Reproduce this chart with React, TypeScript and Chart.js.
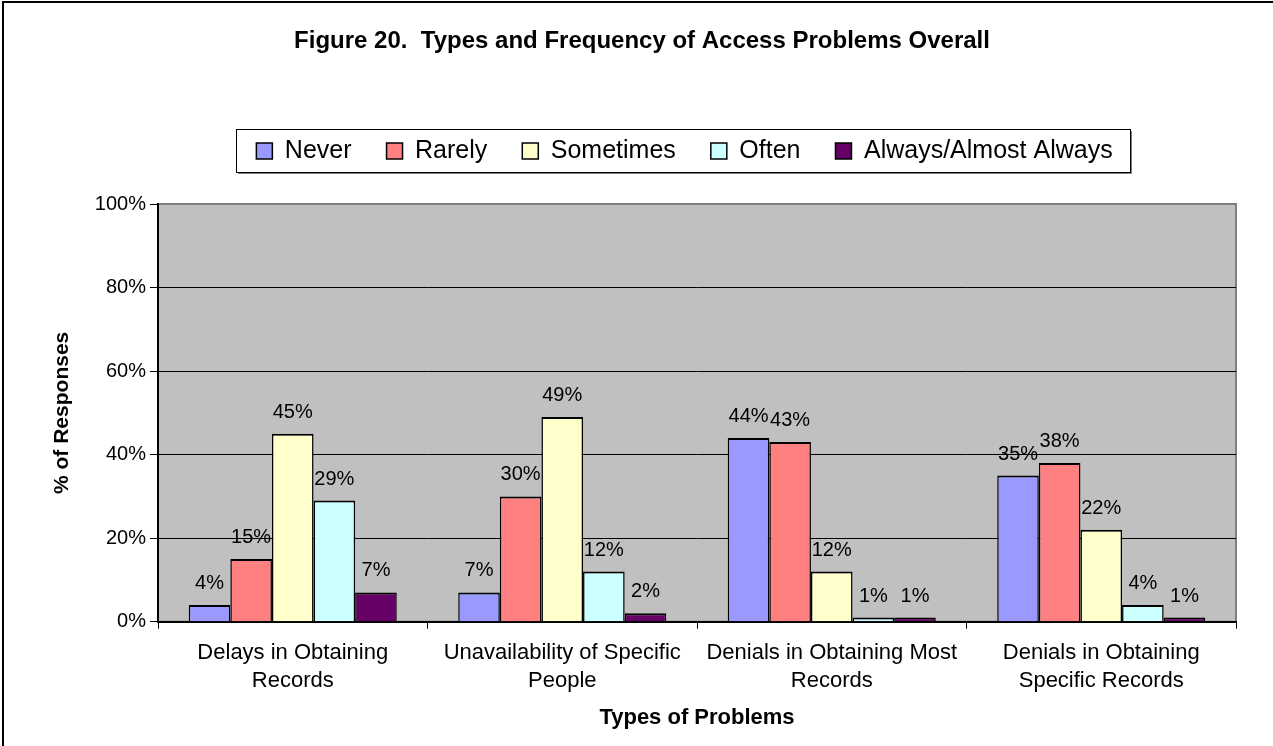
import { useEffect, useRef } from 'react';
import { Chart, registerables } from 'chart.js';

Chart.register(...registerables);

// ---- data ----
const categories: string[][] = [
  ['Delays in Obtaining', 'Records'],
  ['Unavailability of Specific', 'People'],
  ['Denials in Obtaining Most', 'Records'],
  ['Denials in Obtaining', 'Specific Records'],
];
const seriesNames = ['Never', 'Rarely', 'Sometimes', 'Often', 'Always/Almost Always'];
const never = [4, 7, 44, 35];
const rarely = [15, 30, 43, 38];
const sometimes = [45, 49, 12, 22];
const often = [29, 12, 1, 4];
const always = [7, 2, 1, 1];
const seriesValues = [never, rarely, sometimes, often, always];
const seriesColors = ['#9999FF', '#FF8080', '#FFFFCC', '#CCFFFF', '#660066'];
const yTicks = [0, 20, 40, 60, 80, 100];

const titleText = 'Figure 20.  Types and Frequency of Access Problems Overall';
const xTitle = 'Types of Problems';
const yTitle = '% of Responses';

// ---- styling ----
const FONT = "'Liberation Sans', Arial, Helvetica, sans-serif";
const TITLE_CX = 642;
const LEGEND_CX = 684.5;
const LEGEND_FONT = 25;
const LEGEND_BOX = 16;
const LEGEND_PAD = 35;

const decor = {
  id: 'decor',
  afterLayout(chart: any) {
    const t = chart.titleBlock;
    if (t) {
      const w = t.right - t.left;
      t.left = TITLE_CX - w / 2;
      t.right = TITLE_CX + w / 2;
    }
    const l = chart.legend;
    if (l) {
      const w = l.right - l.left;
      l.left = LEGEND_CX - w / 2;
      l.right = LEGEND_CX + w / 2;
    }
  },
  beforeDraw(chart: any) {
    const { ctx, chartArea: a } = chart;
    ctx.save();
    // outer frame (cropped on right/bottom)
    ctx.strokeStyle = '#000';
    ctx.lineWidth = 2;
    ctx.strokeRect(3, 2, chart.width + 20, chart.height + 20);
    // plot background
    ctx.fillStyle = '#C0C0C0';
    ctx.fillRect(a.left, a.top, a.right - a.left, a.bottom - a.top);
    ctx.strokeStyle = '#808080';
    ctx.lineWidth = 2;
    ctx.strokeRect(a.left, a.top, a.right - a.left, a.bottom - a.top);
    // legend frame
    const l = chart.legend;
    if (l && l.lineWidths) {
      const w = l.lineWidths[0] - LEGEND_PAD;
      const cx = (l.left + l.right) / 2;
      const cy = l.top + LEGEND_PAD + Math.max(LEGEND_FONT, LEGEND_BOX) / 2;
      const x0 = Math.round(cx - w / 2 - 20);
      const x1 = Math.round(cx + w / 2 + 17);
      const y0 = Math.round(cy - 22);
      const y1 = Math.round(cy + 21);
      ctx.fillStyle = '#808080';
      ctx.fillRect(x0 + 2, y1, x1 - x0, 2);
      ctx.fillRect(x1, y0 + 2, 2, y1 - y0);
      ctx.fillStyle = '#fff';
      ctx.fillRect(x0, y0, x1 - x0, y1 - y0);
      ctx.strokeStyle = '#000';
      ctx.lineWidth = 1;
      ctx.strokeRect(x0 + 0.5, y0 + 0.5, x1 - x0, y1 - y0);
    }
    ctx.restore();
  },
  beforeDatasetsDraw(chart: any) {
    const { ctx } = chart;
    ctx.save();
    ctx.font = `20px ${FONT}`;
    ctx.fillStyle = '#000';
    ctx.textAlign = 'center';
    ctx.textBaseline = 'alphabetic';
    chart.data.datasets.forEach((ds: any, i: number) => {
      const meta = chart.getDatasetMeta(i);
      meta.data.forEach((bar: any, j: number) => {
        const p = bar.getProps(['x', 'y'], true);
        ctx.fillText(ds.data[j] + '%', p.x, p.y - 16);
      });
    });
    ctx.restore();
  },
};

export default function App() {
  const ref = useRef<HTMLCanvasElement>(null);
  useEffect(() => {
    document.body.style.margin = '0';
    const chart = new Chart(ref.current!, {
      type: 'bar',
      data: {
        labels: categories,
        datasets: seriesNames.map((name, i) => ({
          label: name,
          data: seriesValues[i],
          backgroundColor: seriesColors[i],
          borderColor: '#000',
          borderWidth: { top: 2, left: 1.5, right: 1.5, bottom: 0 },
          categoryPercentage: 0.772,
          barPercentage: 1.0,
        })),
      },
      options: {
        animation: false,
        responsive: false,
        devicePixelRatio: 1,
        events: [],
        layout: { padding: { left: 0, right: 37, top: 0, bottom: 15 } },
        plugins: {
          tooltip: { enabled: false },
          title: {
            display: true,
            text: titleText,
            color: '#000',
            font: { family: FONT, size: 24, weight: 'bold' },
            padding: { top: 26.6, bottom: 48.1 },
          },
          subtitle: {
            display: true,
            text: ' ',
            weight: 500,
            font: { family: FONT, size: 10, lineHeight: 1 },
            padding: { top: 20.5, bottom: 0 },
          } as any,
          legend: {
            display: true,
            position: 'top',
            labels: {
              color: '#000',
              font: { family: FONT, size: LEGEND_FONT },
              boxWidth: LEGEND_BOX,
              boxHeight: LEGEND_BOX,
              padding: LEGEND_PAD,
              generateLabels: (c: any) =>
                (Chart.defaults.plugins.legend.labels.generateLabels as any)(c).map((it: any) => ({
                  ...it,
                  lineWidth: 1.5,
                  strokeStyle: '#000',
                })),
            },
          },
        },
        scales: {
          x: {
            offset: true,
            grid: {
              display: true,
              offset: true,
              drawOnChartArea: false,
              drawTicks: true,
              tickLength: 7,
              tickColor: '#000',
              color: '#000',
              lineWidth: 1,
            },
            border: { display: true, color: '#000', width: 2 },
            ticks: {
              color: '#000',
              font: { family: FONT, size: 22, lineHeight: 1.27 },
              padding: 10,
              maxRotation: 0,
              autoSkip: false,
            },
            title: {
              display: true,
              text: xTitle,
              color: '#000',
              font: { family: FONT, size: 22, weight: 'bold' },
              padding: { top: 0, bottom: 0 },
            },
          },
          y: {
            min: 0,
            max: 100,
            afterBuildTicks: (s: any) => {
              s.ticks = yTicks.map((v) => ({ value: v }));
            },
            ticks: {
              callback: (v: any) => v + '%',
              color: '#000',
              font: { family: FONT, size: 20 },
              padding: 4,
            },
            grid: {
              color: (c: any) =>
                c.tick && c.tick.value > 0 && c.tick.value < 100 ? '#000' : 'rgba(0,0,0,0)',
              lineWidth: 1,
              drawTicks: true,
              tickLength: 8,
              tickColor: '#000',
            },
            border: { display: true, color: '#000', width: 2 },
            title: {
              display: true,
              text: yTitle,
              color: '#000',
              font: { family: FONT, size: 21, weight: 'bold' },
              padding: { top: 50, bottom: 0 },
            },
            afterFit: (s: any) => {
              s.width = 158;
            },
          },
        },
      },
      plugins: [decor],
    } as any);
    return () => chart.destroy();
  }, []);
  return (
    <canvas
      ref={ref}
      width={1273}
      height={746}
      style={{ display: 'block', width: 1273, height: 746 }}
    />
  );
}
